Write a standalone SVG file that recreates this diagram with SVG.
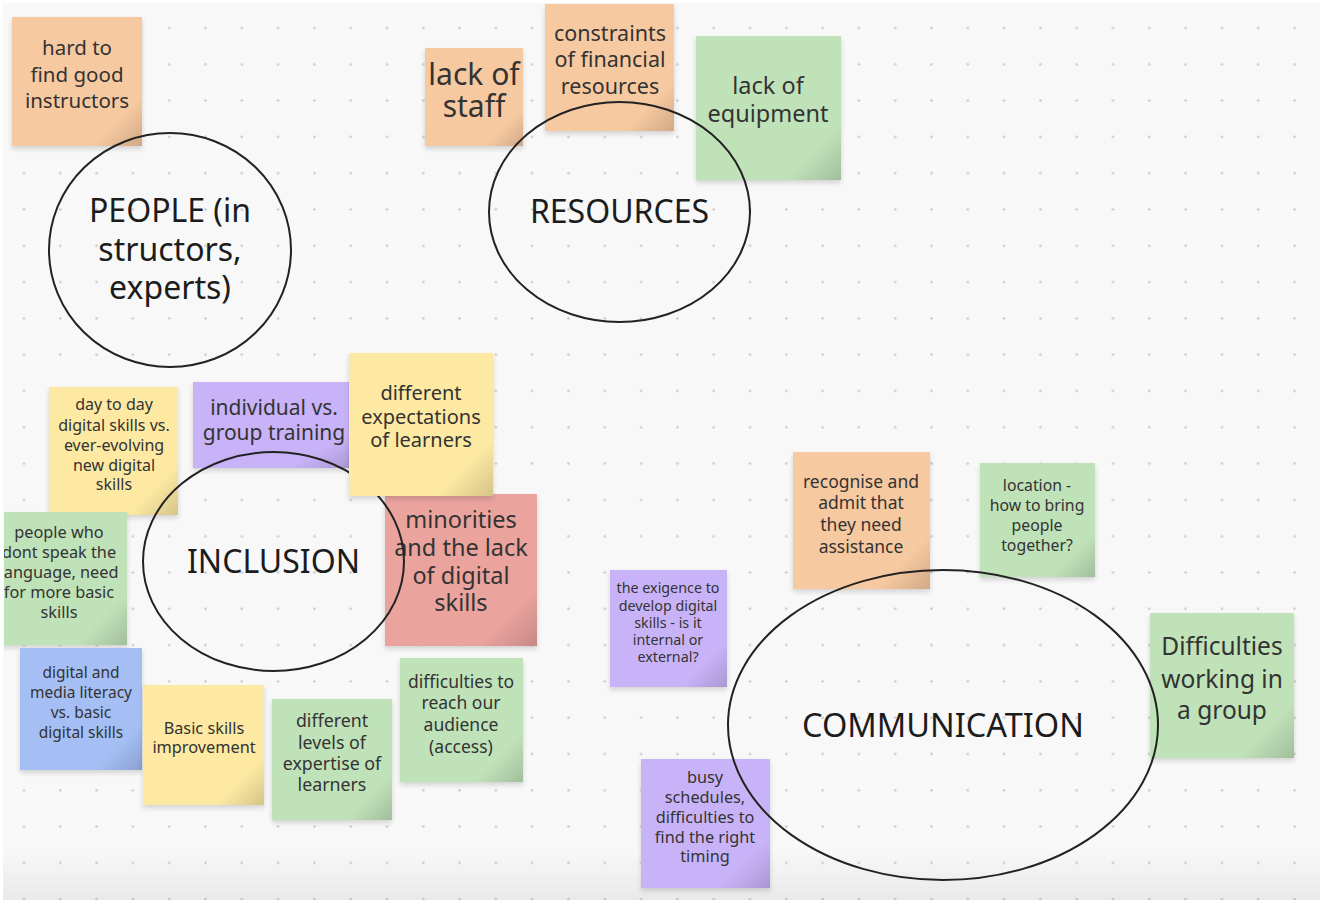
<svg xmlns="http://www.w3.org/2000/svg" width="1325" height="907" viewBox="0 0 1325 907">
<defs>
<style>
.t{font-family:"Noto Sans","Open Sans","DejaVu Sans",sans-serif;fill:#333;text-anchor:middle}
.c{font-family:"Noto Sans","Open Sans","DejaVu Sans",sans-serif;fill:#1c1c1c;text-anchor:middle}
.ring{fill:none;stroke:#222;stroke-width:2}
.or{fill:#f7c9a0}.gr{fill:#c0e2b9}.ye{fill:#fde9a2}.pu{fill:#c9b3f8}.re{fill:#eba39e}.bl{fill:#a5bff5}
.curl{fill:url(#curl)}
</style>
<pattern id="dots" patternUnits="userSpaceOnUse" x="5.85" y="9.85" width="36.3" height="36.3">
<circle cx="18.15" cy="18.15" r="1.3" fill="#cacaca"/>
</pattern>
<linearGradient id="curl" x1="0" y1="0" x2="1" y2="1">
<stop offset="0.8" stop-color="#000" stop-opacity="0"/>
<stop offset="1" stop-color="#000" stop-opacity="0.16"/>
</linearGradient>
<linearGradient id="bot" x1="0" y1="0" x2="0" y2="1">
<stop offset="0" stop-color="#000" stop-opacity="0"/>
<stop offset="1" stop-color="#000" stop-opacity="0.06"/>
</linearGradient>
<filter id="sh" x="-10%" y="-10%" width="130%" height="130%">
<feDropShadow dx="0" dy="3" stdDeviation="2.5" flood-color="#000" flood-opacity="0.15"/>
</filter>
<clipPath id="leftclip"><rect x="4" y="0" width="1325" height="907"/></clipPath>
</defs>
<rect width="1325" height="907" fill="#ffffff"/>
<rect x="3" y="3" width="1317" height="897" fill="#f8f8f8"/>
<rect x="3" y="3" width="1317" height="897" fill="url(#dots)"/>
<rect x="3" y="850" width="1317" height="50" fill="url(#bot)"/>

<g id="n-hard-to-find">
<rect class="or" x="12" y="17" width="130" height="129" filter="url(#sh)"/>
<rect class="curl" x="12" y="17" width="130" height="129"/>
<text class="t" font-size="20.5"><tspan x="77" y="55">hard to</tspan><tspan x="77" y="82">find good</tspan><tspan x="77" y="108">instructors</tspan></text>
</g>
<g id="n-lack-of-staff">
<rect class="or" x="425" y="48" width="98" height="98" filter="url(#sh)"/>
<rect class="curl" x="425" y="48" width="98" height="98"/>
<text class="t" font-size="30"><tspan x="474" y="85">lack of</tspan><tspan x="474" y="117">staff</tspan></text>
</g>
<g id="n-constraints">
<rect class="or" x="545" y="4" width="129" height="127" filter="url(#sh)"/>
<rect class="curl" x="545" y="4" width="129" height="127"/>
<text class="t" font-size="21.5"><tspan x="610" y="41">constraints</tspan><tspan x="610" y="67">of financial</tspan><tspan x="610" y="94">resources</tspan></text>
</g>
<g id="n-lack-of-equipment">
<rect class="gr" x="696" y="36" width="145" height="144" filter="url(#sh)"/>
<rect class="curl" x="696" y="36" width="145" height="144"/>
<text class="t" font-size="23.5"><tspan x="768" y="94">lack of</tspan><tspan x="768" y="122">equipment</tspan></text>
</g>

<g id="n-day-to-day">
<rect class="ye" x="49" y="387" width="129" height="128" filter="url(#sh)"/>
<rect class="curl" x="49" y="387" width="129" height="128"/>
<text class="t" font-size="16"><tspan x="114" y="410">day to day</tspan><tspan x="114" y="431">digital skills vs.</tspan><tspan x="114" y="451">ever-evolving</tspan><tspan x="114" y="471">new digital</tspan><tspan x="114" y="490">skills</tspan></text>
</g>
<g id="n-individual">
<rect class="pu" x="193" y="382" width="156" height="86" filter="url(#sh)"/>
<rect class="curl" x="193" y="382" width="156" height="86"/>
<text class="t" font-size="21"><tspan x="274" y="415">individual vs.</tspan><tspan x="274" y="440">group training</tspan></text>
</g>
<g id="n-people-who" clip-path="url(#leftclip)">
<rect class="gr" x="0" y="512" width="127" height="133" filter="url(#sh)"/>
<rect class="curl" x="0" y="512" width="127" height="133"/>
<text class="t" font-size="16.3"><tspan x="59" y="538">people who</tspan><tspan x="59" y="558">dont speak the</tspan><tspan x="59" y="578">language, need</tspan><tspan x="59" y="598">for more basic</tspan><tspan x="59" y="618">skills</tspan></text>
</g>
<g id="n-minorities">
<rect class="re" x="385" y="494" width="152" height="152" filter="url(#sh)"/>
<rect class="curl" x="385" y="494" width="152" height="152"/>
<text class="t" font-size="23.5"><tspan x="461" y="528">minorities</tspan><tspan x="461" y="556">and the lack</tspan><tspan x="461" y="584">of digital</tspan><tspan x="461" y="611">skills</tspan></text>
</g>
<g id="n-digital-media">
<rect class="bl" x="20" y="648" width="122" height="122" filter="url(#sh)"/>
<rect class="curl" x="20" y="648" width="122" height="122"/>
<text class="t" font-size="15.5"><tspan x="81" y="678">digital and</tspan><tspan x="81" y="698">media literacy</tspan><tspan x="81" y="718">vs. basic</tspan><tspan x="81" y="738">digital skills</tspan></text>
</g>
<g id="n-basic-skills">
<rect class="ye" x="143" y="685" width="121" height="120" filter="url(#sh)"/>
<rect class="curl" x="143" y="685" width="121" height="120"/>
<text class="t" font-size="16.3"><tspan x="204" y="734">Basic skills</tspan><tspan x="204" y="753">improvement</tspan></text>
</g>
<g id="n-different-levels">
<rect class="gr" x="272" y="699" width="120" height="121" filter="url(#sh)"/>
<rect class="curl" x="272" y="699" width="120" height="121"/>
<text class="t" font-size="17.8"><tspan x="332" y="727">different</tspan><tspan x="332" y="749">levels of</tspan><tspan x="332" y="770">expertise of</tspan><tspan x="332" y="791">learners</tspan></text>
</g>
<g id="n-difficulties-reach">
<rect class="gr" x="400" y="658" width="123" height="124" filter="url(#sh)"/>
<rect class="curl" x="400" y="658" width="123" height="124"/>
<text class="t" font-size="17.5"><tspan x="461" y="688">difficulties to</tspan><tspan x="461" y="709">reach our</tspan><tspan x="461" y="731">audience</tspan><tspan x="461" y="753">(access)</tspan></text>
</g>

<g id="n-recognise">
<rect class="or" x="793" y="452" width="137" height="137" filter="url(#sh)"/>
<rect class="curl" x="793" y="452" width="137" height="137"/>
<text class="t" font-size="17.5"><tspan x="861" y="488">recognise and</tspan><tspan x="861" y="509">admit that</tspan><tspan x="861" y="531">they need</tspan><tspan x="861" y="553">assistance</tspan></text>
</g>
<g id="n-location">
<rect class="gr" x="980" y="463" width="115" height="114" filter="url(#sh)"/>
<rect class="curl" x="980" y="463" width="115" height="114"/>
<text class="t" font-size="15.8"><tspan x="1037" y="491">location -</tspan><tspan x="1037" y="511">how to bring</tspan><tspan x="1037" y="531">people</tspan><tspan x="1037" y="551">together?</tspan></text>
</g>
<g id="n-exigence">
<rect class="pu" x="610" y="570" width="117" height="117" filter="url(#sh)"/>
<rect class="curl" x="610" y="570" width="117" height="117"/>
<text class="t" font-size="14.3"><tspan x="668" y="593">the exigence to</tspan><tspan x="668" y="611">develop digital</tspan><tspan x="668" y="628">skills - is it</tspan><tspan x="668" y="645">internal or</tspan><tspan x="668" y="662">external?</tspan></text>
</g>
<g id="n-busy">
<rect class="pu" x="641" y="759" width="129" height="129" filter="url(#sh)"/>
<rect class="curl" x="641" y="759" width="129" height="129"/>
<text class="t" font-size="16.3"><tspan x="705" y="783">busy</tspan><tspan x="705" y="803">schedules,</tspan><tspan x="705" y="823">difficulties to</tspan><tspan x="705" y="843">find the right</tspan><tspan x="705" y="862">timing</tspan></text>
</g>
<g id="n-difficulties-group">
<rect class="gr" x="1150" y="613" width="144" height="145" filter="url(#sh)"/>
<rect class="curl" x="1150" y="613" width="144" height="145"/>
<text class="t" font-size="24.5"><tspan x="1222" y="655">Difficulties</tspan><tspan x="1222" y="688">working in</tspan><tspan x="1222" y="719">a group</tspan></text>
</g>

<g id="n-people">
<ellipse class="ring" cx="170" cy="250" rx="121" ry="117"/>
<text class="c" font-size="32"><tspan x="170" y="222">PEOPLE (in</tspan><tspan x="170" y="261">structors,</tspan><tspan x="170" y="299">experts)</tspan></text>
</g>
<g id="n-resources">
<ellipse class="ring" cx="619.5" cy="212" rx="130.5" ry="110"/>
<text class="c" font-size="32" x="619.5" y="223">RESOURCES</text>
</g>
<g id="n-inclusion">
<ellipse class="ring" cx="273.5" cy="561.5" rx="130.5" ry="109.5"/>
<text class="c" font-size="32" x="273.5" y="573">INCLUSION</text>
</g>
<g id="n-communication">
<ellipse class="ring" cx="943" cy="725" rx="215" ry="155"/>
<text class="c" font-size="32.5" x="943" y="737">COMMUNICATION</text>
</g>

<g id="n-different-expectations">
<rect class="ye" x="349" y="353" width="144" height="143" filter="url(#sh)"/>
<rect class="curl" x="349" y="353" width="144" height="143"/>
<text class="t" font-size="20"><tspan x="421" y="400">different</tspan><tspan x="421" y="424">expectations</tspan><tspan x="421" y="447">of learners</tspan></text>
</g>
<g id="connectors"/>
</svg>
